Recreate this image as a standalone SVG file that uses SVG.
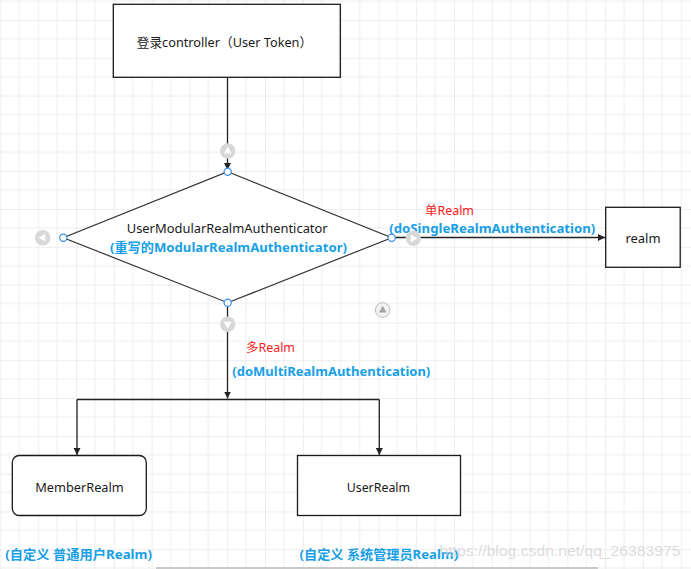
<svg xmlns="http://www.w3.org/2000/svg" width="691" height="569" viewBox="0 0 691 569">
<defs>
<pattern id="grid" patternUnits="userSpaceOnUse" x="0.4" y="-17.8" width="37.8" height="37.8">
<path d="M18.9 0V37.8M0 18.9H37.8" stroke="#eeeeee" stroke-width="1" fill="none"/>
<path d="M0 0V37.8M0 0H37.8" stroke="#dddddd" stroke-width="1" fill="none"/>
</pattern>
<marker id="arr" markerWidth="8" markerHeight="8" refX="7" refY="3.5" orient="auto" markerUnits="userSpaceOnUse">
<path d="M0 0L7 3.5L0 7Z" fill="#222"/>
</marker>
<style>
.box{fill:#fff;stroke:#1a1a1a;stroke-width:1.3}
.t{font-family:"Noto Sans","Noto Sans CJK SC",sans-serif;font-size:13px;fill:#1a1a1a}
.b{font-family:"Noto Sans","Noto Sans CJK SC",sans-serif;font-size:13px;font-weight:bold;fill:#17a0e6}
.r{font-family:"Noto Sans","Noto Sans CJK SC",sans-serif;font-size:12px;fill:#ff1a1a}
.ln{fill:none;stroke:#222;stroke-width:1.3}
.pt{fill:#fff;stroke:#3a8ee6;stroke-width:1.2}
.ic{fill:#d8d8d8}
.tri{fill:#fff}
</style>
</defs>
<rect width="691" height="569" fill="#fff"/>
<rect width="691" height="569" fill="url(#grid)"/>
<rect x="156" y="567" width="442" height="2" fill="#c9c9c9"/>

<g id="connectors">
<path class="ln" d="M227.5 77.5V170" marker-end="url(#arr)"/>
<path class="ln" d="M392 237.5H605" marker-end="url(#arr)"/>
<path class="ln" d="M227.5 303V398.5" marker-end="url(#arr)"/>
<path class="ln" d="M77 399.5H379.3"/>
<path class="ln" d="M77 399.5V455" marker-end="url(#arr)"/>
<path class="ln" d="M379.3 399.5V455" marker-end="url(#arr)"/>
<text class="r" x="425" y="215" textLength="49" lengthAdjust="spacingAndGlyphs">单Realm</text>
<text class="b" x="389.3" y="233" textLength="206" lengthAdjust="spacingAndGlyphs">(doSingleRealmAuthentication)</text>
<text class="r" x="246" y="351.5" textLength="49" lengthAdjust="spacingAndGlyphs">多Realm</text>
<text class="b" x="232.3" y="376" textLength="198" lengthAdjust="spacingAndGlyphs">(doMultiRealmAuthentication)</text>
</g>

<g id="login">
<rect class="box" x="113.3" y="4.3" width="227" height="73"/>
<text class="t" x="136.7" y="47" textLength="175.5" lengthAdjust="spacingAndGlyphs">登录controller（User Token）</text>
</g>

<g id="authenticator">
<path d="M227.7 171.7L391.7 237.7L227.7 302.7L63.3 237.7Z" fill="#fff" stroke="#333" stroke-width="1.2"/>
<text class="t" x="126.7" y="233.3" textLength="201" lengthAdjust="spacingAndGlyphs">UserModularRealmAuthenticator</text>
<text class="b" x="110" y="252.3" textLength="237" lengthAdjust="spacingAndGlyphs">(重写的ModularRealmAuthenticator)</text>
<circle class="pt" cx="227.7" cy="171.7" r="3.6"/>
<circle class="pt" cx="391.7" cy="237.7" r="3.6"/>
<circle class="pt" cx="227.7" cy="302.7" r="3.6"/>
<circle class="pt" cx="63.3" cy="237.7" r="3.6"/>
<circle class="ic" cx="227.7" cy="151" r="7.7"/>
<path class="tri" d="M227.7 146.8L231.6 153.6H223.8Z"/>
<circle class="ic" cx="227.7" cy="324.3" r="7.7"/>
<path class="tri" d="M227.7 328.5L231.6 321.7H223.8Z"/>
<circle class="ic" cx="42.7" cy="237.7" r="7.7"/>
<path class="tri" d="M38.5 237.7L45.3 233.8V241.6Z"/>
<circle class="ic" cx="413.3" cy="238.3" r="7.7"/>
<path class="tri" d="M417.5 238.3L410.7 234.4V242.2Z"/>
<circle cx="382.7" cy="310" r="7.3" fill="#f2f2f2" stroke="#bdbdbd" stroke-width="1"/>
<path d="M382.7 305.8L386.6 312.6H378.8Z" fill="#a6a6a6"/>
</g>

<g id="realm">
<rect class="box" x="605.7" y="207.3" width="74.5" height="60"/>
<text class="t" x="643" y="243.3" text-anchor="middle">realm</text>
</g>

<g id="memberRealm">
<rect class="box" x="12.3" y="455.5" width="134" height="60" rx="7"/>
<text class="t" x="79.5" y="492.3" text-anchor="middle" textLength="88.5" lengthAdjust="spacingAndGlyphs">MemberRealm</text>
<text class="b" x="5.3" y="559" textLength="146.7" lengthAdjust="spacingAndGlyphs">(自定义 普通用户Realm)</text>
</g>

<g id="userRealm">
<rect class="box" x="297.5" y="455.5" width="163" height="60"/>
<text class="t" x="378.4" y="492.3" text-anchor="middle" textLength="63.4" lengthAdjust="spacingAndGlyphs">UserRealm</text>
<text class="b" x="299.6" y="559" textLength="158.5" lengthAdjust="spacingAndGlyphs">(自定义 系统管理员Realm)</text>
</g>

<text x="439.5" y="555.7" font-family="Liberation Sans, sans-serif" font-size="15" fill="#d6d6d6" fill-opacity="0.85" textLength="241" lengthAdjust="spacingAndGlyphs">https://blog.csdn.net/qq_26383975</text>
</svg>
